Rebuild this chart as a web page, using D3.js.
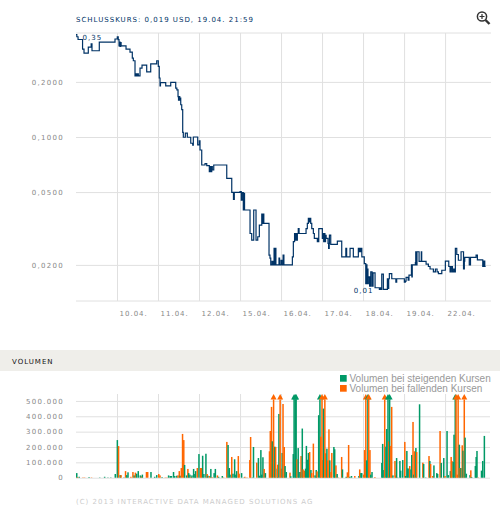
<!DOCTYPE html>
<html>
<head>
<meta charset="utf-8">
<script src="https://cdn.jsdelivr.net/npm/d3@7"></script>
<style>
  body { margin: 0; background: #fff; }
  svg { display: block; }
  .px { font-family: "DejaVu Sans", sans-serif; font-size: 7px; letter-spacing: 1px; }
  .ylab { letter-spacing: 1.3px; }
</style>
</head>
<body>
<div id="chart"></div>
<script>
// trading days shown on the x axis (index = day number)
const days = ["09.04.", "10.04.", "11.04.", "12.04.", "15.04.", "16.04.", "17.04.", "18.04.", "19.04.", "22.04."];

// price ticks (USD, log axis)
const priceTicks = [0.02, 0.05, 0.1, 0.2];
const volumeTicks = [0, 100000, 200000, 300000, 400000, 500000];

// closing price steps: time in trading days since 09.04. open, price in USD
const priceT = [0.00, 0.02, 0.05, 0.16, 0.195, 0.30, 0.37, 0.39, 0.568, 0.951,
  1.007, 1.03, 1.049, 1.06, 1.075, 1.09, 1.10, 1.22, 1.317, 1.373, 1.398, 1.439, 1.46, 1.48, 1.50, 1.52, 1.561, 1.61, 1.724, 1.822, 1.968,
  2.007, 2.03, 2.049, 2.06, 2.188, 2.31, 2.432, 2.46, 2.488, 2.50, 2.515, 2.53, 2.545, 2.554, 2.578, 2.602, 2.617, 2.666, 2.715, 2.798, 2.846, 2.861, 2.968,
  3.007, 3.024, 3.066, 3.146, 3.188, 3.251, 3.27, 3.29, 3.31, 3.324, 3.359, 3.676, 3.798, 3.84, 3.86,
  4.0, 4.03, 4.05, 4.08, 4.095, 4.11, 4.244, 4.285, 4.334, 4.39, 4.432, 4.471, 4.53, 4.55, 4.565, 4.58, 4.707, 4.73, 4.749, 4.78, 4.80, 4.83, 4.85, 4.86, 4.875, 4.95, 4.965,
  5.0, 5.02, 5.05, 5.07, 5.276, 5.30, 5.33, 5.36, 5.375, 5.39, 5.398, 5.42, 5.44, 5.61, 5.641, 5.666, 5.69, 5.71, 5.724, 5.749, 5.788, 5.812, 5.885, 5.90, 5.91, 5.92,
  6.007, 6.024, 6.04, 6.055, 6.07, 6.085, 6.10, 6.146, 6.16, 6.175, 6.18, 6.212, 6.373, 6.48, 6.58, 6.60, 6.683, 6.763, 6.885, 6.90, 6.92, 6.94, 6.96, 6.97,
  7.007, 7.03, 7.066, 7.08, 7.095, 7.11, 7.12, 7.129, 7.16, 7.188, 7.22, 7.244, 7.293, 7.398, 7.42, 7.44, 7.456, 7.495, 7.593, 7.61, 7.625, 7.641, 7.70, 7.80, 7.82,
  8.007, 8.03, 8.049, 8.10, 8.12, 8.18, 8.19, 8.20, 8.276, 8.285, 8.30, 8.315, 8.366, 8.42, 8.43, 8.537, 8.593, 8.634, 8.715, 8.764, 8.805, 8.837, 8.92,
  9.007, 9.09, 9.122, 9.15, 9.18, 9.21, 9.23, 9.251, 9.285, 9.324, 9.39, 9.45, 9.47, 9.48, 9.59, 9.62, 9.756, 9.788, 9.919, 9.94, 9.968, 9.99];
const priceV = [0.363, 0.353, 0.341, 0.302, 0.287, 0.310, 0.323, 0.296, 0.330, 0.343,
  0.352, 0.340, 0.315, 0.330, 0.313, 0.328, 0.315, 0.302, 0.291, 0.270, 0.261, 0.216, 0.221, 0.216, 0.221, 0.216, 0.238, 0.247, 0.227, 0.251, 0.261,
  0.243, 0.210, 0.190, 0.198, 0.190, 0.199, 0.185, 0.181, 0.166, 0.159, 0.166, 0.159, 0.163, 0.150, 0.141, 0.106, 0.0997, 0.105, 0.0997, 0.0924, 0.0902, 0.100, 0.0905,
  0.0954, 0.0849, 0.0703, 0.0715, 0.0697, 0.0646, 0.069, 0.0646, 0.069, 0.066, 0.0703, 0.0594, 0.0498, 0.0456, 0.0498,
  0.0503, 0.0452, 0.0497, 0.0399, 0.0492, 0.0399, 0.0297, 0.0273, 0.0399, 0.0273, 0.0285, 0.0330, 0.0379, 0.0337, 0.0379, 0.0337, 0.0226, 0.0218, 0.0200, 0.0209, 0.0200, 0.0246, 0.0200, 0.0246, 0.0200, 0.0218, 0.0200,
  0.0212, 0.0200, 0.0226, 0.0200, 0.0221, 0.0268, 0.0297, 0.0273, 0.0297, 0.0273, 0.0297, 0.0316, 0.0297, 0.0316, 0.0337, 0.0359, 0.0344, 0.0359, 0.0337, 0.0316, 0.0297, 0.0279, 0.0268, 0.0279, 0.0268, 0.0316,
  0.0279, 0.0297, 0.0268, 0.0297, 0.0268, 0.0290, 0.0279, 0.0262, 0.0246, 0.0262, 0.0291, 0.0259, 0.0270, 0.0221, 0.0246, 0.0221, 0.0246, 0.0221, 0.0246, 0.0236, 0.0246, 0.0236, 0.0246, 0.0221,
  0.0221, 0.0203, 0.0158, 0.0200, 0.0158, 0.0190, 0.0158, 0.0172, 0.0153, 0.0183, 0.0153, 0.0181, 0.0150, 0.0147, 0.0150, 0.0147, 0.0178, 0.0147, 0.0168, 0.0149, 0.0168, 0.0179, 0.0168, 0.0161, 0.0168,
  0.0161, 0.0163, 0.0171, 0.0165, 0.0176, 0.0200, 0.0172, 0.0200, 0.0206, 0.0236, 0.0200, 0.0236, 0.0209, 0.0236, 0.0209, 0.0202, 0.0196, 0.0190, 0.0183, 0.0190, 0.0183, 0.0179, 0.0187,
  0.0210, 0.0196, 0.0183, 0.0196, 0.0183, 0.0190, 0.0183, 0.0246, 0.0228, 0.0212, 0.0236, 0.0190, 0.0210, 0.0220, 0.0200, 0.0220, 0.0226, 0.0213, 0.0196, 0.0210, 0.0196, 0.0196];
const extremeLabels = ["0,35", "0,01"];

// volume per interval: time (trading days), volume in thousands, 1 = rising, 0 = falling
const volT = [0.00, 0.02, 0.06, 0.15, 0.19, 0.30, 0.36, 0.56, 0.68, 0.76, 0.83, 0.94, 0.99,
  1.02, 1.06, 1.08, 1.15, 1.19, 1.22, 1.25, 1.32, 1.37, 1.40, 1.43, 1.46, 1.50, 1.55, 1.58, 1.60, 1.70, 1.73, 1.81, 1.90, 1.95,
  2.00, 2.03, 2.08, 2.16, 2.20, 2.24, 2.28, 2.31, 2.36, 2.39, 2.44, 2.47, 2.50, 2.52, 2.55, 2.58, 2.61, 2.63, 2.68, 2.71, 2.73, 2.76, 2.79, 2.81, 2.85, 2.88, 2.90, 2.94, 2.98,
  3.02, 3.04, 3.07, 3.10, 3.15, 3.18, 3.20, 3.24, 3.27, 3.30, 3.35, 3.38, 3.43, 3.46, 3.55, 3.58, 3.66, 3.69, 3.72, 3.76, 3.78, 3.81, 3.85, 3.88, 3.90, 3.94, 3.96,
  4.02, 4.08, 4.10, 4.15, 4.22, 4.24, 4.28, 4.31, 4.39, 4.43, 4.46, 4.49, 4.51, 4.54, 4.57, 4.60, 4.70, 4.72, 4.75, 4.77, 4.80, 4.83, 4.85, 4.89, 4.90, 4.93, 4.96, 4.98,
  5.01, 5.03, 5.06, 5.08, 5.11, 5.20, 5.22, 5.28, 5.30, 5.33, 5.35, 5.37, 5.40, 5.42, 5.45, 5.47, 5.50, 5.52, 5.55, 5.58, 5.60, 5.63, 5.65, 5.68, 5.71, 5.73, 5.77, 5.81, 5.84, 5.86, 5.90, 5.93, 5.95, 5.98,
  6.00, 6.02, 6.05, 6.07, 6.10, 6.12, 6.15, 6.17, 6.20, 6.22, 6.27, 6.29, 6.32, 6.35, 6.38, 6.46, 6.48, 6.57, 6.60, 6.63, 6.66, 6.70, 6.78, 6.88, 6.90, 6.93, 6.95,
  7.00, 7.02, 7.05, 7.07, 7.10, 7.12, 7.15, 7.17, 7.20, 7.27, 7.44, 7.46, 7.49, 7.51, 7.54, 7.56, 7.59, 7.61, 7.63, 7.66, 7.68, 7.71, 7.76, 7.78, 7.80, 7.83, 7.88, 7.90, 7.95,
  8.00, 8.02, 8.05, 8.07, 8.10, 8.12, 8.15, 8.17, 8.20, 8.22, 8.24, 8.27, 8.29, 8.36, 8.44, 8.46, 8.51, 8.59, 8.61, 8.63, 8.68, 8.71, 8.78, 8.80, 8.86, 8.89, 8.95, 8.98,
  9.03, 9.06, 9.11, 9.13, 9.15, 9.18, 9.20, 9.23, 9.25, 9.28, 9.30, 9.33, 9.35, 9.37, 9.40, 9.42, 9.45, 9.47, 9.50, 9.59, 9.61, 9.63, 9.72, 9.74, 9.76, 9.79, 9.87, 9.90, 9.94];
const volK = [30, 4, 6, 2, 2, 4, 2, 2, 6, 2, 2, 24, 245,
  206, 17, 17, 2, 43, 17, 35, 6, 37, 15, 33, 26, 43, 15, 9, 20, 37, 37, 37, 6, 17,
  24, 15, 4, 2, 2, 15, 11, 11, 37, 11, 13, 15, 43, 13, 63, 285, 245, 83, 15, 57, 30, 20, 6, 15, 57, 24, 43, 63, 154,
  63, 63, 143, 24, 156, 24, 13, 11, 57, 4, 30, 57, 15, 6, 11, 2, 233, 213, 63, 20, 135, 26, 120, 20, 43, 141, 26,
  30, 2, 6, 2, 115, 265, 2, 200, 98, 128, 13, 180, 20, 133, 57, 30, 172, 304, 461, 237, 600, 202, 200, 59, 85, 415, 600, 59,
  161, 480, 200, 76, 37, 33, 9, 154, 600, 600, 600, 120, 193, 37, 37, 141, 320, 54, 46, 59, 207, 117, 161, 167, 50, 30, 222, 15, 50, 41, 407, 600, 267, 600,
  115, 450, 600, 159, 189, 113, 315, 113, 37, 161, 200, 185, 80, 24, 2, 135, 54, 6, 35, 213, 6, 11, 11, 11, 54, 30, 30,
  20, 180, 600, 113, 600, 600, 180, 20, 37, 4, 96, 220, 50, 600, 202, 317, 600, 237, 600, 207, 461, 15, 109, 15, 128, 2, 109, 46, 115,
  233, 11, 174, 61, 59, 76, 54, 148, 363, 20, 172, 193, 167, 478, 98, 89, 2, 141, 109, 89, 11, 80, 30, 24, 304, 96, 128, 11,
  304, 17, 43, 135, 109, 102, 280, 600, 600, 20, 600, 215, 63, 63, 211, 176, 600, 261, 26, 17, 48, 4, 76, 135, 174, 2, 46, 109, 272];
const volUp = [1, 0, 1, 0, 0, 1, 0, 1, 1, 1, 1, 1, 1,
  0, 1, 0, 1, 0, 1, 1, 0, 0, 1, 0, 1, 1, 1, 0, 1, 0, 0, 1, 1, 1,
  0, 0, 1, 0, 0, 1, 1, 1, 1, 1, 1, 0, 0, 1, 0, 0, 0, 1, 1, 0, 1, 1, 0, 1, 1, 1, 1, 0, 1,
  0, 0, 1, 1, 1, 0, 1, 0, 1, 0, 1, 1, 0, 1, 1, 0, 0, 1, 1, 1, 0, 1, 1, 1, 1, 0, 0,
  1, 1, 0, 0, 0, 0, 1, 1, 0, 1, 1, 1, 1, 1, 0, 1, 0, 0, 0, 1, 0, 1, 0, 1, 0, 1, 0, 0,
  1, 0, 0, 1, 1, 0, 1, 1, 1, 1, 1, 0, 1, 1, 1, 0, 1, 0, 0, 1, 1, 1, 1, 0, 1, 0, 0, 1, 1, 0, 1, 1, 0, 0,
  0, 1, 0, 0, 1, 0, 0, 1, 0, 0, 1, 1, 0, 1, 0, 0, 1, 1, 0, 0, 1, 1, 0, 1, 0, 1, 1,
  0, 0, 0, 1, 1, 0, 0, 1, 1, 0, 1, 1, 1, 0, 1, 1, 1, 0, 1, 0, 0, 1, 0, 0, 1, 1, 1, 1, 1,
  0, 1, 1, 1, 1, 0, 1, 1, 0, 1, 0, 1, 0, 1, 0, 1, 1, 0, 1, 0, 0, 1, 1, 1, 0, 1, 1, 0,
  1, 1, 1, 0, 0, 1, 1, 1, 0, 0, 0, 1, 0, 1, 0, 1, 0, 1, 1, 1, 0, 1, 1, 1, 1, 0, 1, 1, 1];

const navy = "#003366";
const green = "#009966";
const orange = "#ff6600";
const grid = "#e0e0e0";
const labelGrey = "#888";

const W = 500, H = 510;
const left = 76, right = 491;
const priceTop = 33, priceBottom = 301;
const volTop = 394, volBottom = 477.7;

const svg = d3.select("#chart").append("svg")
    .attr("width", W)
    .attr("height", H);

const x = d3.scaleLinear()
    .domain([0, 10.12])
    .range([left, right]);

const y = d3.scaleLog()
    .domain([0.0127, 0.37])
    .range([priceBottom, priceTop]);

const yVol = d3.scaleLinear()
    .domain([0, 545000])
    .range([volBottom, volTop]);

const comma = v => d3.format(".4f")(v).replace(".", ",");
const thousands = v => d3.format(",")(v).replace(/,/g, ".");

// title
svg.append("text")
    .attr("class", "px")
    .attr("x", left)
    .attr("y", 22)
    .attr("fill", navy)
    .text("SCHLUSSKURS: 0,019 USD, 19.04. 21:59");

// zoom icon
const icon = svg.append("g").attr("stroke", "#333").attr("fill", "none");
icon.append("circle").attr("cx", 482).attr("cy", 16.5).attr("r", 4.6).attr("stroke-width", 1.5);
icon.append("path").attr("d", "M479.5,16.5H484.5M482,14V19").attr("stroke-width", 1.2);
icon.append("path").attr("d", "M485.5,20L489.5,24").attr("stroke-width", 2.4);

// price chart grid
const priceG = svg.append("g");

priceG.append("g")
    .attr("transform", `translate(${left},0)`)
    .call(d3.axisLeft(y).tickValues(priceTicks).tickSize(-(right - left)).tickPadding(12).tickFormat(comma))
    .call(g => g.select(".domain").remove())
    .call(g => g.selectAll("line").attr("stroke", grid))
    .call(g => g.selectAll("text").attr("class", "px ylab").attr("fill", labelGrey).attr("font-size", null).attr("font-family", null));

priceG.append("g")
    .attr("transform", `translate(0,${priceBottom})`)
    .call(d3.axisBottom(x).tickValues(d3.range(1, days.length)).tickSize(-(priceBottom - priceTop)).tickFormat(i => days[i]))
    .call(g => g.select(".domain").remove())
    .call(g => g.selectAll("line").attr("stroke", grid))
    .call(g => g.selectAll("text")
        .attr("class", "px")
        .attr("fill", labelGrey)
        .attr("font-size", null).attr("font-family", null)
        .attr("text-anchor", "start")
        .attr("x", 2)
        .attr("y", 14.7)
        .attr("dy", 0));

priceG.append("line")
    .attr("x1", left).attr("x2", right)
    .attr("y1", priceTop).attr("y2", priceTop)
    .attr("stroke", grid);
priceG.append("line")
    .attr("x1", left).attr("x2", right)
    .attr("y1", priceBottom).attr("y2", priceBottom)
    .attr("stroke", grid);

// price line
const pricePts = priceT.map((t, i) => ({ t, v: priceV[i] }));
const line = d3.line()
    .x(d => x(d.t))
    .y(d => y(d.v))
    .curve(d3.curveStepAfter);

svg.append("path")
    .attr("d", line(pricePts))
    .attr("fill", "none")
    .attr("stroke", navy)
    .attr("stroke-width", 1.2);

// high / low markers
const hi = pricePts[d3.maxIndex(pricePts, d => d.v)];
const lo = pricePts[d3.minIndex(pricePts, d => d.v)];
svg.append("text")
    .attr("class", "px")
    .attr("x", x(hi.t) + 6.5)
    .attr("y", y(hi.v) + 5.3)
    .attr("fill", navy)
    .text(extremeLabels[0]);
svg.append("text")
    .attr("class", "px")
    .attr("x", x(lo.t) - 6)
    .attr("y", y(lo.v) + 3.6)
    .attr("text-anchor", "end")
    .attr("fill", navy)
    .text(extremeLabels[1]);

// volume header
svg.append("rect")
    .attr("x", 0).attr("y", 350)
    .attr("width", W).attr("height", 21)
    .attr("fill", "#efeeea");
svg.append("text")
    .attr("class", "px")
    .attr("x", 12).attr("y", 363.7)
    .attr("fill", "#111")
    .text("VOLUMEN");

// legend
const legend = [["Volumen bei steigenden Kursen", green], ["Volumen bei fallenden Kursen", orange]];
const lg = svg.append("g").selectAll("g")
    .data(legend)
    .join("g")
    .attr("transform", (d, i) => `translate(340,${375 + i * 10})`);
lg.append("rect").attr("width", 6.7).attr("height", 6.7).attr("fill", d => d[1]);
lg.append("text")
    .attr("x", 9.5).attr("y", 6.8)
    .attr("font-family", "Liberation Sans, Arial, sans-serif")
    .attr("font-size", "10px")
    .attr("fill", "#999")
    .text(d => d[0]);

// volume grid
const volG = svg.append("g");
volG.append("g")
    .attr("transform", `translate(${left},0)`)
    .call(d3.axisLeft(yVol).tickValues(volumeTicks).tickSize(-(right - 1 - left)).tickPadding(12).tickFormat(thousands))
    .call(g => g.select(".domain").remove())
    .call(g => g.selectAll("line").attr("stroke", grid))
    .call(g => g.selectAll("text").attr("class", "px ylab").attr("fill", labelGrey).attr("font-size", null).attr("font-family", null));

volG.append("g")
    .attr("transform", `translate(0,${volBottom})`)
    .call(d3.axisBottom(x).tickValues(d3.range(1, days.length)).tickSize(-(volBottom - volTop)).tickFormat(""))
    .call(g => g.select(".domain").remove())
    .call(g => g.selectAll("line").attr("stroke", grid));

// volume bars
const volData = volT.map((t, i) => ({ t, v: volK[i] * 1000, up: volUp[i] === 1 }));
const capY = 399.5;
const capV = yVol.invert(capY);

svg.append("g")
    .selectAll("rect")
    .data(volData)
    .join("rect")
    .attr("x", d => x(d.t))
    .attr("width", 1.5)
    .attr("y", d => yVol(Math.min(d.v, capV)))
    .attr("height", d => volBottom - yVol(Math.min(d.v, capV)))
    .attr("fill", d => d.up ? green : orange);

// arrows for bars beyond the axis
svg.append("g")
    .selectAll("path")
    .data(volData.filter(d => d.v > capV))
    .join("path")
    .attr("d", d => {
        const cx = x(d.t) + 0.75;
        return `M${cx - 3},${capY}L${cx + 3},${capY}L${cx},${capY - 5.5}Z`;
    })
    .attr("fill", d => d.up ? green : orange);

// footer
svg.append("text")
    .attr("class", "px")
    .attr("x", left).attr("y", 504.3)
    .attr("fill", "#ccc")
    .text("(C) 2013 INTERACTIVE DATA MANAGED SOLUTIONS AG");
</script>
</body>
</html>
